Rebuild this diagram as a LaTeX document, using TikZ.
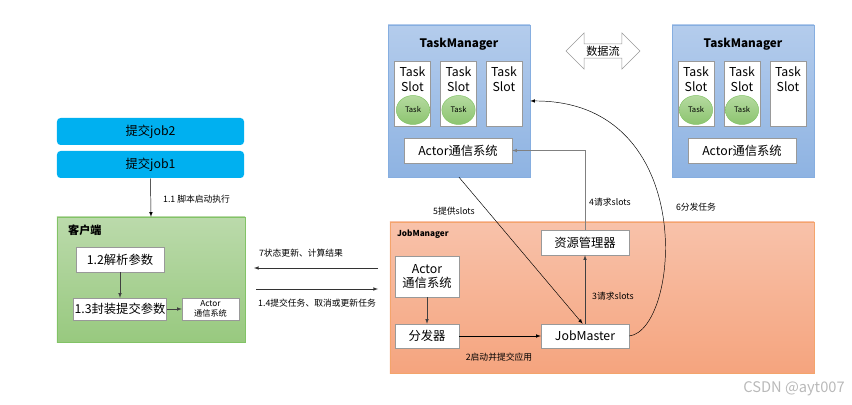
\documentclass[tikz,border=0pt]{standalone}
\usepackage{fontspec}
\setmainfont{Noto Sans CJK SC}
\usetikzlibrary{shapes.arrows,shapes.geometric}

\definecolor{tmtop}{HTML}{B4CCEC}
\definecolor{tmbot}{HTML}{8EB3E2}
\definecolor{tmline}{HTML}{86AEE0}
\definecolor{cltop}{HTML}{BBDAAB}
\definecolor{clbot}{HTML}{98C97F}
\definecolor{clline}{HTML}{82C366}
\definecolor{jmtop}{HTML}{F8C2AA}
\definecolor{jmbot}{HTML}{F5A47E}
\definecolor{jmline}{HTML}{F4A46C}
\definecolor{jobblue}{HTML}{00B0F0}
\definecolor{tasktop}{HTML}{B5DAA0}
\definecolor{taskbot}{HTML}{8CC46F}

\begin{document}
\begin{tikzpicture}[
	x=0.03cm,y=-0.03cm,
	>=latex,
	wbox/.style={rectangle,draw=gray!80,fill=white,inner sep=1pt,font=\fontsize{10.5}{12}\selectfont},
	slotbox/.style={rectangle,draw=gray!80,fill=white,minimum width=1.08cm,minimum height=1.95cm},
	tasknode/.style={ellipse,draw=clline,top color=tasktop,bottom color=taskbot,minimum width=1.0cm,minimum height=0.87cm,inner sep=0pt,font=\fontsize{6.5}{7}\selectfont},
	slottext/.style={align=center,font=\fontsize{10.5}{12.5}\selectfont},
	tmbox/.style={rectangle,draw=tmline,top color=tmtop,bottom color=tmbot,minimum width=4.26cm,minimum height=4.56cm},
	jobbox/.style={rectangle,rounded corners=3pt,fill=jobblue,minimum width=5.61cm,minimum height=0.81cm,font=\fontsize{10.5}{12}\selectfont},
	lbl/.style={font=\fontsize{7.5}{9}\selectfont},
	]
\useasboundingbox (0,0) rectangle (852,405);

% TaskManager (left)
\node [tmbox] (tmA) at (459,101) {};
\node [font=\bfseries\fontsize{10}{12}\selectfont] (tmAt) at (459,44) {TaskManager};
\foreach \i/\x in {1/412.5,2/458.5,3/504} {
  \node [slotbox] (sA\i) at (\x,93.5) {};
  \node [slottext] (sAt\i) at (\x,79) {Task\\Slot};
}
\node [tasknode] (kA1) at (413,110) {Task};
\node [tasknode] (kA2) at (458.5,110) {Task};
\node [wbox,minimum width=3.24cm,minimum height=0.75cm] (actA) at (458,150.5) {Actor通信系统};

% TaskManager (right)
\node [tmbox] (tmB) at (743,101) {};
\node [font=\bfseries\fontsize{10}{12}\selectfont] (tmBt) at (743,44) {TaskManager};
\foreach \i/\x in {1/696,2/742,3/788} {
  \node [slotbox] (sB\i) at (\x,93.5) {};
  \node [slottext] (sBt\i) at (\x,79) {Task\\Slot};
}
\node [tasknode] (kB1) at (696,110) {Task};
\node [tasknode] (kB2) at (742,110) {Task};
\node [wbox,minimum width=3.24cm,minimum height=0.75cm] (actB) at (742,150.5) {Actor通信系统};

% data flow
\node [double arrow,draw=gray!80,fill=white,minimum height=2.22cm,inner sep=1.5pt,
  double arrow head extend=0.33cm,font=\fontsize{9.5}{11}\selectfont] (flow) at (603,51) {数据流};

% client side
\node [jobbox] (job2) at (150.5,131.5) {提交job2};
\node [jobbox] (job1) at (150.5,164.5) {提交job1};
\node [rectangle,draw=clline,top color=cltop,bottom color=clbot,minimum width=5.64cm,minimum height=3.75cm] (client) at (151,279.5) {};
\node [anchor=west,font=\bfseries\fontsize{9.5}{11}\selectfont] (clientt) at (64,230) {客户端};
\node [wbox,minimum width=2.64cm,minimum height=0.75cm] (parse) at (120,259.5) {1.2解析参数};
\node [wbox,minimum width=2.64cm,minimum height=0.66cm] (pack) at (120,309) {1.3封装提交参数};
\node [wbox,align=center,minimum width=1.71cm,minimum height=0.66cm,font=\fontsize{7}{8.5}\selectfont] (actC) at (210.5,309) {Actor\\通信系统};

\draw [->,thin] (job1.south) -- (client.north);
\node [lbl,anchor=west] (l11) at (159,199) {1.1 脚本启动执行};
\draw [->,black!75] (parse) -- (pack);
\draw [->,black!75] (pack) -- (actC);

% JobManager
\node [rectangle,draw=jmline,top color=jmtop,bottom color=jmbot,minimum width=12.72cm,minimum height=4.53cm] (jm) at (602,297.5) {};
\node [anchor=west,font=\bfseries\fontsize{7}{8}\selectfont] (jmt) at (393,234) {JobManager};
\node [wbox,align=center,minimum width=1.92cm,minimum height=1.23cm,font=\fontsize{10.5}{12.5}\selectfont] (actJ) at (427,276.5) {Actor\\通信系统};
\node [wbox,minimum width=1.92cm,minimum height=0.72cm] (disp) at (427,336) {分发器};
\node [wbox,minimum width=2.64cm,minimum height=0.72cm] (master) at (585,336) {JobMaster};
\node [wbox,minimum width=2.64cm,minimum height=0.75cm] (res) at (585,242.5) {资源管理器};

\draw [->,black!75] (actJ) -- (disp);
\draw [->] (disp) -- (master);
\node [lbl] (l2) at (499,357) {2启动并提交应用};
\draw [->,black!75] (master) -- (res);
\node [lbl] (l3) at (613,296) {3请求slots};
\draw [->,gray] (res.north) |- (actA.east);
\node [lbl] (l4) at (610,202) {4请求slots};
\draw [->,thin] (tmA.south) -- ([xshift=-2pt]master.north);
\node [lbl] (l5) at (454,211) {5提供slots};
\draw [->,thin] (master.east) .. controls (680,330) and (700,100) .. (tmA.east);
\node [lbl] (l6) at (696,207) {6分发任务};

% client <-> JobManager
\coordinate (c7a) at (378,268);
\coordinate (c7b) at (254,268);
\coordinate (c14a) at (256,289);
\coordinate (c14b) at (378,289);
\draw [->,black!80] (c7a) -- (c7b);
\draw [->,black!80] (c14a) -- (c14b);
\node [lbl] (l7) at (301,253) {7状态更新、计算结果};
\node [lbl] (l14) at (317,303) {1.4提交任务、取消或更新任务};

\node [text=gray!55,font=\fontsize{12.5}{14}\selectfont] (mark) at (794,389) {CSDN @ayt007};
\end{tikzpicture}
\end{document}
